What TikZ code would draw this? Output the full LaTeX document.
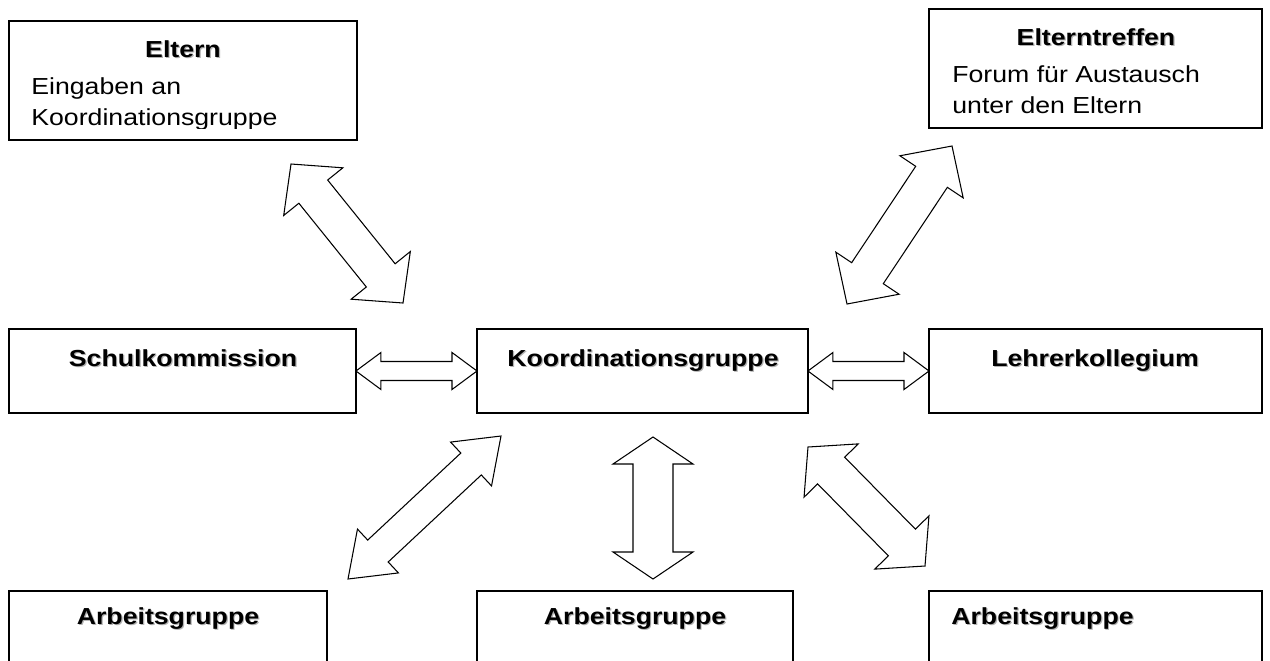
\documentclass[tikz,border=0pt]{standalone}
\usepackage{fontspec}
\setmainfont{Liberation Sans}[FakeStretch=1.15]
\usetikzlibrary{calc}

\tikzset{
  box/.style={draw, line width=0.8pt, inner sep=0pt, outer sep=0pt, anchor=north west},
  title/.style={font=\fontsize{13.2}{17.3}\selectfont\bfseries, anchor=base, inner sep=0pt},
  body/.style={font=\fontsize{13.2}{17.3}\selectfont, anchor=base west, align=left, inner sep=0pt},
  blockarrow/.style={draw, line width=0.6pt, line join=miter, fill=white}
}

% bold titles with a light shadow
\newcommand{\shadowtxt}[1]{\leavevmode\rlap{\kern0.7pt\raisebox{-0.7pt}{\textcolor{black!30}{#1}}}#1}

% double block arrow: ends, head length, half head width, half shaft width
\newcommand{\dblarrow}[5]{%
  \draw[blockarrow] (#1)
    -- ($($(#1)!#3!(#2)$)!#4!90:(#2)$)
    -- ($($(#1)!#3!(#2)$)!#5!90:(#2)$)
    -- ($($(#2)!#3!(#1)$)!#5!-90:(#1)$)
    -- ($($(#2)!#3!(#1)$)!#4!-90:(#1)$)
    -- (#2)
    -- ($($(#2)!#3!(#1)$)!#4!90:(#1)$)
    -- ($($(#2)!#3!(#1)$)!#5!90:(#1)$)
    -- ($($(#1)!#3!(#2)$)!#5!-90:(#2)$)
    -- ($($(#1)!#3!(#2)$)!#4!-90:(#2)$)
    -- cycle;}

\begin{document}
\begin{tikzpicture}[x=0.02cm, y=-0.02cm]
    \clip (0,0) rectangle (1270,660);

    % top row (body nodes sit on their last baseline)
    \node[box, minimum width=6.96cm, minimum height=2.38cm] (eltern) at (9,21) {};
    \node[title] (elterntitle) at (183,57) {\shadowtxt{Eltern}};
    \begin{scope}
      \clip (9,21) rectangle (357,128);
      \node[body] (elterntext) at (31,125) {Eingaben an\\Koordinationsgruppe};
    \end{scope}

    \node[box, minimum width=6.66cm, minimum height=2.38cm] (treffen) at (929,9) {};
    \node[title] (treffentitle) at (1096,45) {\shadowtxt{Elterntreffen}};
    \node[body] (treffentext) at (952,113) {Forum für Austausch\\unter den Eltern};

    % middle row
    \node[box, minimum width=6.94cm, minimum height=1.68cm] (schul) at (9,329) {};
    \node[title] at (183,366) {\shadowtxt{Schulkommission}};
    \node[box, minimum width=6.62cm, minimum height=1.68cm] (koord) at (477,329) {};
    \node[title] at (643,366) {\shadowtxt{Koordinationsgruppe}};
    \node[box, minimum width=6.66cm, minimum height=1.68cm] (lehrer) at (929,329) {};
    \node[title] at (1095,366) {\shadowtxt{Lehrerkollegium}};

    % bottom row
    \node[box, minimum width=6.36cm, minimum height=2cm] (ag1) at (9,591) {};
    \node[title] at (168,624) {\shadowtxt{Arbeitsgruppe}};
    \node[box, minimum width=6.32cm, minimum height=2cm] (ag2) at (477,591) {};
    \node[title] at (635,624) {\shadowtxt{Arbeitsgruppe}};
    \node[box, minimum width=6.66cm, minimum height=2cm] (ag3) at (929,591) {};
    \node[title, anchor=base west] at (951,624) {\shadowtxt{Arbeitsgruppe}};

    % arrow ends
    \coordinate (tl1) at (291,164);
    \coordinate (tl2) at (403,303);
    \coordinate (tr1) at (952,146);
    \coordinate (tr2) at (847,304);
    \coordinate (bl1) at (501,436);
    \coordinate (bl2) at (348,579);
    \coordinate (bm1) at (653,437);
    \coordinate (bm2) at (653,579);
    \coordinate (br1) at (808,447);
    \coordinate (br2) at (925,566);

    \dblarrow{tl1}{tl2}{0.71cm}{0.76cm}{0.37cm}
    \dblarrow{tr1}{tr2}{0.74cm}{0.76cm}{0.38cm}
    \dblarrow{schul.east}{koord.west}{0.5cm}{0.37cm}{0.19cm}
    \dblarrow{koord.east}{lehrer.west}{0.5cm}{0.37cm}{0.19cm}
    \dblarrow{bl1}{bl2}{0.82cm}{0.6cm}{0.3cm}
    \dblarrow{bm1}{bm2}{0.54cm}{0.8cm}{0.4cm}
    \dblarrow{br1}{br2}{0.66cm}{0.76cm}{0.38cm}
\end{tikzpicture}
\end{document}
